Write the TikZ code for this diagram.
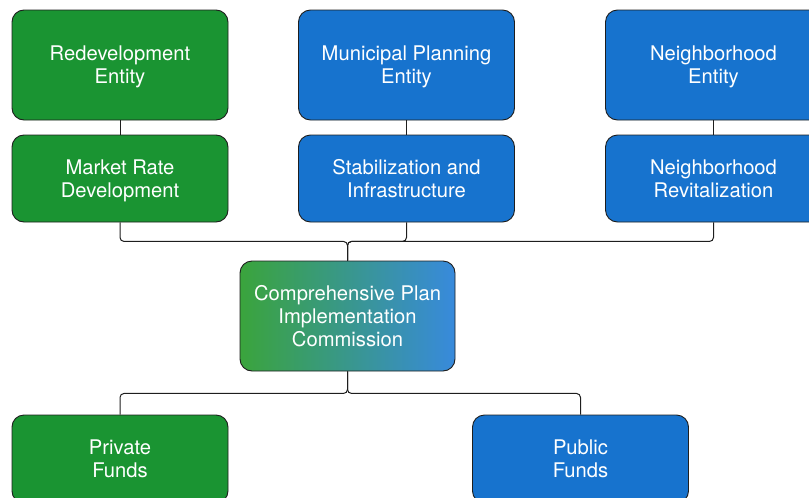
\documentclass[tikz,border=0pt]{standalone}
\usepackage{fontspec}
\setmainfont{TeX Gyre Heros}
\definecolor{boxgreen}{RGB}{26,148,50}
\definecolor{boxblue}{RGB}{23,115,206}
\definecolor{gradgreen}{RGB}{58,164,60}
\definecolor{gradblue}{RGB}{56,138,220}
\definecolor{edge}{RGB}{30,30,30}
\tikzset{
  box/.style={draw=edge, line width=0.9pt, rounded corners=12pt, minimum width=216pt,
    inner sep=0pt, align=center, text=white, text depth=0pt,
    font=\fontsize{20.2}{22.8}\selectfont},
  tall/.style={box, minimum height=110pt},
  short/.style={box, minimum height=87pt},
  green/.style={fill=boxgreen},
  blue/.style={fill=boxblue},
  conn/.style={draw=edge, line width=1pt, rounded corners=4pt},
}
\begin{document}
\begin{tikzpicture}[x=1pt,y=-1pt]
\useasboundingbox (0,0) rectangle (809,498);
\clip (0,0) rectangle (809,498);
\node[tall,green] (re) at (120,65) {Redevelopment\\Entity};
\node[tall,blue] (mp) at (406.5,65) {Municipal Planning\\Entity};
\node[tall,blue] (ne) at (713.5,65) {Neighborhood\\Entity};
\node[short,green] (mr) at (120,178.5) {Market Rate\\Development};
\node[short,blue] (si) at (406.5,178.5) {Stabilization and\\Infrastructure};
\node[short,blue] (nr) at (713.5,178.5) {Neighborhood\\Revitalization};
\node[tall, left color=gradgreen, right color=gradblue, minimum width=215pt] (cp) at (347.5,316) {Comprehensive Plan\\Implementation\\Commission};
\node[short,green, minimum height=88pt] (pf) at (120,459) {Private\\Funds};
\node[short,blue, minimum height=88pt] (pu) at (580.5,459) {Public\\Funds};
\draw[conn] (re.south) -- (mr.north);
\draw[conn] (mp.south) -- (si.north);
\draw[conn] (ne.south) -- (nr.north);
\draw[conn] (mr.south) -- ++(0,19) -| (cp.north);
\draw[conn] (si.south) -- ++(0,19) -| (cp.north);
\draw[conn] (nr.south) -- ++(0,19) -| (cp.north);
\draw[conn] (cp.south) -- ++(0,22) -| (pf.north);
\draw[conn] (cp.south) -- ++(0,22) -| (pu.north);
\end{tikzpicture}
\end{document}
